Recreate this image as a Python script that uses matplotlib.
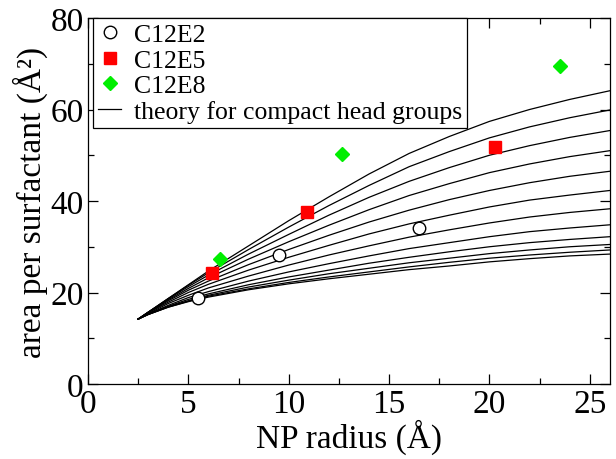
import matplotlib
matplotlib.use("Agg")
import matplotlib.pyplot as plt
from matplotlib.ticker import MultipleLocator

plt.rcParams['font.family'] = ['Liberation Serif', 'DejaVu Serif']

# measured points
e2_r = [5.5, 9.5, 16.5]
e2_a = [18.8, 28.2, 34.0]
e5_r = [6.2, 10.9, 20.3]
e5_a = [24.3, 37.5, 51.7]
e8_r = [6.6, 12.65, 23.5]
e8_a = [27.4, 50.3, 69.5]

# theory curves, top to bottom
r_theory = [2.5, 3, 4, 5, 6, 8, 10, 12, 14, 16, 18, 20, 22, 24, 26]
theory = [
    [14.2, 15.7, 18.7, 21.7, 24.7, 30.2, 35.7, 40.9, 45.9, 50.4, 54.1, 57.4, 60.0, 62.2, 64.1],
    [14.2, 15.7, 18.7, 21.6, 24.3, 29.4, 34.3, 39.0, 43.4, 47.5, 50.8, 53.8, 56.2, 58.2, 59.9],
    [14.2, 15.7, 18.6, 21.3, 23.8, 28.4, 32.7, 36.9, 40.8, 44.3, 47.3, 50.0, 52.1, 53.9, 55.4],
    [14.2, 15.7, 18.4, 20.9, 23.2, 27.3, 31.1, 34.7, 38.1, 41.2, 43.8, 46.2, 48.1, 49.7, 51.0],
    [14.2, 15.6, 18.2, 20.5, 22.5, 26.1, 29.4, 32.5, 35.4, 38.0, 40.3, 42.3, 44.0, 45.4, 46.5],
    [14.2, 15.6, 17.9, 20.0, 21.8, 24.9, 27.7, 30.3, 32.8, 35.0, 36.9, 38.7, 40.2, 41.3, 42.3],
    [14.2, 15.4, 17.6, 19.4, 21.0, 23.6, 26.0, 28.2, 30.2, 32.1, 33.7, 35.2, 36.5, 37.5, 38.3],
    [14.2, 15.3, 17.2, 18.9, 20.2, 22.5, 24.5, 26.3, 28.0, 29.6, 30.9, 32.2, 33.3, 34.1, 34.8],
    [14.2, 15.3, 17.0, 18.5, 19.7, 21.7, 23.4, 24.9, 26.4, 27.7, 28.9, 30.0, 30.9, 31.6, 32.2],
    [14.2, 15.2, 16.9, 18.2, 19.4, 21.2, 22.7, 24.1, 25.3, 26.5, 27.5, 28.5, 29.3, 30.0, 30.5],
    [14.2, 15.2, 16.8, 18.1, 19.2, 20.8, 22.2, 23.4, 24.5, 25.6, 26.6, 27.5, 28.2, 28.8, 29.3],
    [14.2, 15.2, 16.8, 18.0, 19.0, 20.6, 21.9, 23.0, 24.0, 25.0, 25.8, 26.7, 27.4, 28.0, 28.4],
]

fig = plt.figure(figsize=(6.16, 4.60), dpi=100)
ax = fig.add_axes([0.1429, 0.163, 0.8471, 0.7957])

for i, curve in enumerate(theory):
    if i == 0:
        ax.plot(r_theory, curve, color='k', lw=0.9, label='theory for compact head groups', zorder=2)
    else:
        ax.plot(r_theory, curve, color='k', lw=0.9, zorder=2)

ax.plot(e2_r, e2_a, 'o', ms=9, mfc='white', mec='k', mew=1.0, ls='none', label='C12E2', zorder=3)
ax.plot(e5_r, e5_a, 's', ms=8, mfc='#ff0000', mec='#ff0000', ls='none', label='C12E5', zorder=3)
ax.plot(e8_r, e8_a, 'D', ms=7, mfc='#00ee00', mec='#00ee00', ls='none', label='C12E8', zorder=3)

ax.set_xlim(0, 26)
ax.set_ylim(0, 80)
ax.xaxis.set_major_locator(MultipleLocator(5))
ax.xaxis.set_minor_locator(MultipleLocator(2.5))
ax.yaxis.set_major_locator(MultipleLocator(20))
ax.yaxis.set_minor_locator(MultipleLocator(10))
ax.tick_params(which='both', direction='in', top=True, right=True, labelsize=24, width=0.9)
ax.tick_params(which='major', length=7)
ax.tick_params(which='minor', length=4)
ax.tick_params(axis='x', pad=3)
ax.tick_params(axis='y', pad=3)
for s in ax.spines.values():
    s.set_linewidth(0.9)

ax.set_xlabel('NP radius (Å)', fontsize=24, labelpad=0)
ax.set_ylabel('area per surfactant (Å²)', fontsize=24, labelpad=2)

h, l = ax.get_legend_handles_labels()
order = [1, 2, 3, 0]
leg = ax.legend([h[i] for i in order], [l[i] for i in order], loc='upper left',
                bbox_to_anchor=(0.0096, 1.0), borderaxespad=0, fontsize=18.5,
                fancybox=False, edgecolor='k', framealpha=1, handlelength=0.9,
                handletextpad=0.5, labelspacing=0.1, borderpad=0.2, numpoints=1)
leg.get_frame().set_linewidth(0.9)

plt.savefig('out.png', dpi=100)
